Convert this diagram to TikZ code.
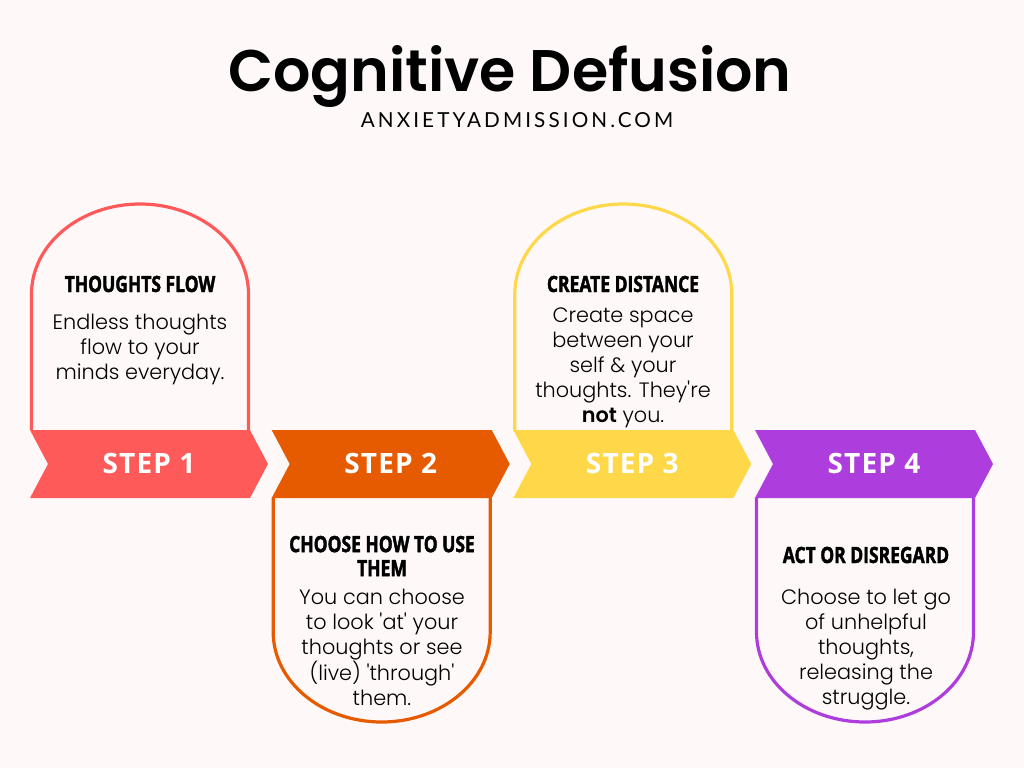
\documentclass[tikz,border=0pt]{standalone}
\usepackage{fontspec}
\setmainfont{Poppins}
\newfontfamily\titlefont{Poppins SemiBold}
\newfontfamily\subfont[LetterSpace=15]{Lato}
\newfontfamily\headfont[FakeStretch=0.78,FakeBold=1.8]{Open Sans}
\newfontfamily\stepfont[LetterSpace=4]{Open Sans}
\newfontfamily\bodyfont[BoldFont={Poppins SemiBold}]{Poppins Light}
\definecolor{bg}{HTML}{FEF9F8}
\definecolor{cA}{HTML}{FF5A5A}
\definecolor{cB}{HTML}{E65A00}
\definecolor{cC}{HTML}{FFD84A}
\definecolor{cD}{HTML}{AE3DDE}
\begin{document}
\begin{tikzpicture}[x=0.75pt,y=-0.75pt,
  boxline/.style={line width=2.4pt,fill=bg},
  steplabel/.style={text=white,inner sep=0pt,font={\stepfont\bfseries\fontsize{21}{24}\selectfont}},
  headlabel/.style={inner sep=0pt,align=center,font={\headfont\bfseries\fontsize{16.8}{18}\selectfont}},
  bodylabel/.style={inner sep=0pt,align=center,font={\bodyfont\fontsize{15.6}{18.75}\selectfont}}]
\fill[bg] (0,0) rectangle (1024,768);
\useasboundingbox (0,0) rectangle (1024,768);
% title
\node[anchor=base,inner sep=0pt,font={\titlefont\fontsize{44}{50}\selectfont}] (title) at (510,91) {Cognitive Defusion};
\node[anchor=base,inner sep=0pt,font={\subfont\fontsize{15.5}{18}\selectfont}] (sub) at (517,127) {ANXIETYADMISSION.COM};
% top boxes (steps 1 and 3)
\foreach \o/\c in {30/cA,513.3/cC}{
  \draw[boxline,draw=\c] ({\o+1.5},430) -- ({\o+1.5},294)
    .. controls ({\o+1.5},244.3) and ({\o+50.1},204) .. ({\o+110},204)
    .. controls ({\o+169.9},204) and ({\o+218.5},244.3) .. ({\o+218.5},294)
    -- ({\o+218.5},430);
}
% bottom boxes (steps 2 and 4)
\foreach \o/\c in {271.7/cB,755/cD}{
  \draw[boxline,draw=\c] ({\o+1.5},498) -- ({\o+1.5},632)
    .. controls ({\o+1.5},681.7) and ({\o+50.1},722) .. ({\o+110},722)
    .. controls ({\o+169.9},722) and ({\o+218.5},681.7) .. ({\o+218.5},632)
    -- ({\o+218.5},498);
}
% chevrons
\foreach \o/\c in {30/cA,271.7/cB,513.3/cC,755/cD}{
  \fill[\c] (\o,430) -- ({\o+220},430) -- ({\o+238},464) -- ({\o+220},498)
    -- (\o,498) -- ({\o+18},464) -- cycle;
}
\node[steplabel] (s1) at (149,463.5) {STEP 1};
\node[steplabel] (s2) at (390.7,463.5) {STEP 2};
\node[steplabel] (s3) at (632.3,463.5) {STEP 3};
\node[steplabel] (s4) at (874,463.5) {STEP 4};
% headings
\node[headlabel,anchor=base] (h1) at (140,292) {THOUGHTS FLOW};
\node[headlabel] (h2) at (382,556) {CHOOSE HOW TO USE\\THEM};
\node[headlabel,anchor=base] (h3) at (623,292) {CREATE DISTANCE};
\node[headlabel,anchor=base] (h4) at (866,563) {ACT OR DISREGARD};
% bodies
\node[bodylabel] (b1) at (140,349) {Endless thoughts\\flow to your\\minds everyday.};
\node[bodylabel] (b2) at (382,647.5) {You can choose\\to look 'at' your\\thoughts or see\\(live) 'through'\\them.};
\node[bodylabel] (b3) at (623,367.5) {Create space\\between your\\self \& your\\thoughts. They're\\\textbf{not} you.};
\node[bodylabel] (b4) at (866,650) {Choose to let go\\of unhelpful\\thoughts,\\releasing the\\struggle.};
\end{tikzpicture}
\end{document}
